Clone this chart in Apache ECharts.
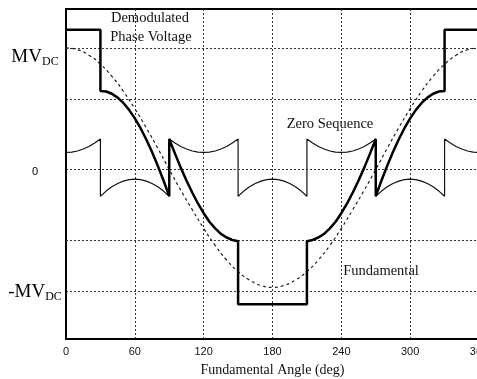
<!DOCTYPE html>
<html>
<head>
<meta charset="utf-8">
<script src="https://cdn.jsdelivr.net/npm/echarts@6/dist/echarts.min.js"></script>
<style>
  html, body { margin: 0; padding: 0; background: #fff; }
  #chart { width: 477px; height: 379px; }
</style>
</head>
<body>
<div id="chart"></div>
<script>
// x tick labels (fundamental angle, deg)
const angleTicks = [0, 60, 120, 180, 240, 300, 360];
// horizontal grid levels (in units of M·Vdc): ±1, ±1/√3, 0
const hGridLevels = [1, 0.577, 0, -0.577, -1];
// y labels
const yLabels = [
  { text: '{m|MV}{s|DC}', level: 1 },
  { text: '{z|0}', level: 0 },
  { text: '{m|-MV}{s|DC}', level: -1 }
];

// Demodulated phase voltage (thick line) [angle, value]
const phaseVoltage = [
  [0,1.15],[30,1.15],[30,0.646],[35,0.641],[40,0.623],[45,0.591],[50,0.547],[55,0.49],[60,0.42],
  [65,0.339],[70,0.246],[75,0.143],[80,0.031],[85,-0.091],[90,-0.22],[90,0.25],[95,0.13],[100,0.015],
  [105,-0.091],[110,-0.19],[115,-0.28],[120,-0.36],[125,-0.43],[130,-0.485],[135,-0.53],[140,-0.56],
  [145,-0.58],[150,-0.59],[150,-1.11],[180,-1.11],[210,-1.11],[210,-0.59],[215,-0.58],[220,-0.56],
  [225,-0.53],[230,-0.485],[235,-0.43],[240,-0.36],[245,-0.28],[250,-0.19],[255,-0.091],[260,0.015],
  [265,0.13],[270,0.25],[270,-0.22],[275,-0.091],[280,0.031],[285,0.143],[290,0.246],[295,0.339],
  [300,0.42],[305,0.49],[310,0.547],[315,0.591],[320,0.623],[325,0.641],[330,0.646],[330,1.15],[360,1.15]
];

// Zero sequence (thin line) [angle, value]
const zeroSequence = [
  [0,0.14],[5,0.143],[10,0.152],[15,0.168],[20,0.189],[25,0.217],[30,0.25],
  [30,-0.22],[35,-0.178],[40,-0.143],[45,-0.116],[50,-0.096],[55,-0.084],[60,-0.08],[65,-0.084],
  [70,-0.096],[75,-0.116],[80,-0.143],[85,-0.178],[90,-0.22],
  [90,0.25],[95,0.217],[100,0.189],[105,0.168],[110,0.152],[115,0.143],[120,0.14],[125,0.143],
  [130,0.152],[135,0.168],[140,0.189],[145,0.217],[150,0.25],
  [150,-0.22],[155,-0.178],[160,-0.143],[165,-0.116],[170,-0.096],[175,-0.084],[180,-0.08],[185,-0.084],
  [190,-0.096],[195,-0.116],[200,-0.143],[205,-0.178],[210,-0.22],
  [210,0.25],[215,0.217],[220,0.189],[225,0.168],[230,0.152],[235,0.143],[240,0.14],[245,0.143],
  [250,0.152],[255,0.168],[260,0.189],[265,0.217],[270,0.25],
  [270,-0.22],[275,-0.178],[280,-0.143],[285,-0.116],[290,-0.096],[295,-0.084],[300,-0.08],[305,-0.084],
  [310,-0.096],[315,-0.116],[320,-0.143],[325,-0.178],[330,-0.22],
  [330,0.25],[335,0.217],[340,0.189],[345,0.168],[350,0.152],[355,0.143],[360,0.14]
];

// Fundamental (dashed) [angle, value]
const fundamental = [
  [0,1.0],[10,0.985],[20,0.94],[30,0.866],[40,0.766],[50,0.643],[60,0.5],[70,0.342],[80,0.174],[90,0],
  [100,-0.17],[110,-0.33],[120,-0.485],[130,-0.625],[140,-0.745],[150,-0.84],[160,-0.91],[170,-0.955],[180,-0.97],
  [190,-0.955],[200,-0.91],[210,-0.84],[220,-0.745],[230,-0.625],[240,-0.485],[250,-0.33],[260,-0.17],[270,0],
  [280,0.174],[290,0.342],[300,0.5],[310,0.643],[320,0.766],[330,0.866],[340,0.94],[350,0.985],[360,1.0]
];

const annotations = [
  { text: 'Demodulated', x: 150, y: 18 },
  { text: 'Phase Voltage', x: 151, y: 37 },
  { text: 'Zero Sequence', x: 330, y: 124 },
  { text: 'Fundamental', x: 381, y: 271 }
];

const chart = echarts.init(document.getElementById('chart'), null, { renderer: 'canvas' });

const GRID = { left: 66, top: 9, width: 413, height: 330 };
const Y_MIN = -1.395, Y_MAX = 1.32;

const serif = '"Liberation Serif", "DejaVu Serif", serif';
const sans = '"Liberation Sans", Arial, sans-serif';

const graphics = annotations.map(a => ({
  type: 'text', x: a.x, y: a.y, silent: true,
  style: { text: a.text, fill: '#111', font: '14.5px ' + serif, align: 'center', verticalAlign: 'middle' }
}));

const richY = {
  m: { fontFamily: serif, fontSize: 19, color: '#111', lineHeight: 22 },
  s: { fontFamily: serif, fontSize: 12, color: '#111', lineHeight: 22, padding: [9, 0, 0, 0] },
  z: { fontFamily: sans, fontSize: 11, color: '#111' }
};
const yOffsets = { '1': 9, '0': 3, '-1': 1 };
yLabels.forEach(l => {
  const py = GRID.top + (Y_MAX - l.level) / (Y_MAX - Y_MIN) * GRID.height + yOffsets[String(l.level)];
  graphics.push({
    type: 'text', x: 35, y: py, silent: true,
    style: { text: l.text, rich: richY, align: 'center', verticalAlign: 'middle' }
  });
});

const option = {
  backgroundColor: '#fff',
  animation: false,
  grid: Object.assign({
    show: true, borderColor: '#000', borderWidth: 2, backgroundColor: 'transparent',
    containLabel: false, outerBoundsMode: 'none'
  }, GRID),
  xAxis: {
    type: 'value', min: 0, max: 360, interval: 60,
    name: 'Fundamental Angle (deg)', nameLocation: 'middle', nameGap: 24,
    nameTextStyle: { fontFamily: serif, fontSize: 14, color: '#111' },
    axisLine: { show: true, onZero: false, lineStyle: { color: '#000', width: 2 } },
    axisTick: { show: false },
    axisLabel: { margin: 7, fontFamily: sans, fontSize: 11, color: '#111',
      customValues: angleTicks, formatter: v => String(v) },
    splitLine: { show: true, lineStyle: { color: '#333', width: 1, type: [2, 2] } }
  },
  yAxis: {
    type: 'value', min: Y_MIN, max: Y_MAX,
    axisLine: { show: true, onZero: false, lineStyle: { color: '#000', width: 2 } },
    axisTick: { show: false },
    axisLabel: { show: false },
    splitLine: { show: false }
  },
  graphic: graphics,
  series: [
    {
      name: 'Grid', type: 'line', data: [], silent: true,
      markLine: {
        silent: true, symbol: ['none', 'none'], label: { show: false },
        lineStyle: { color: '#333', width: 1, type: [2, 2] },
        data: hGridLevels.map(v => ({ yAxis: v }))
      }
    },
    {
      name: 'Fundamental', type: 'line', data: fundamental, smooth: true, showSymbol: false,
      lineStyle: { color: '#222', width: 1.2, type: [3, 3] }, z: 3
    },
    {
      name: 'Zero Sequence', type: 'line', data: zeroSequence, showSymbol: false,
      lineStyle: { color: '#111', width: 1.2 }, z: 4
    },
    {
      name: 'Demodulated Phase Voltage', type: 'line', data: phaseVoltage, showSymbol: false,
      lineStyle: { color: '#000', width: 2.5 }, z: 5
    }
  ]
};
chart.setOption(option);
</script>
</body>
</html>
